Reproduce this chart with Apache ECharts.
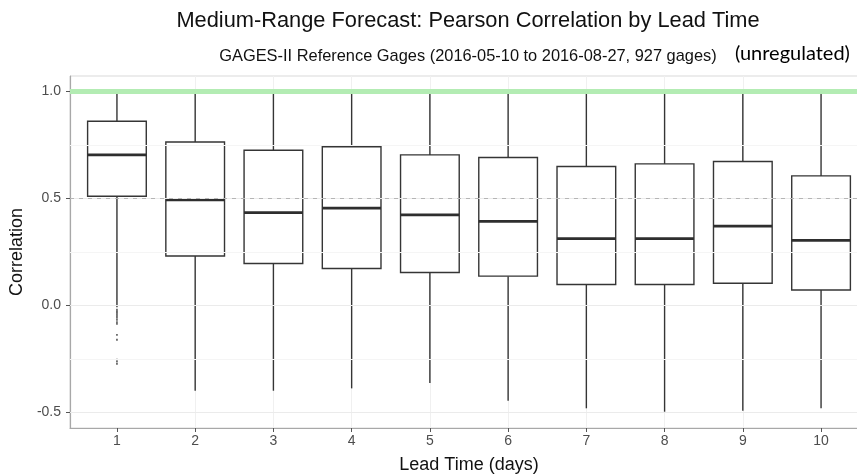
<!DOCTYPE html>
<html>
<head>
<meta charset="utf-8">
<script src="https://cdn.jsdelivr.net/npm/echarts@6/dist/echarts.min.js"></script>
<style>
  html, body { margin: 0; padding: 0; background: #fff; }
  #main { width: 857px; height: 475px; }
</style>
</head>
<body>
<div id="main"></div>
<script>
// lead time categories (days)
var leadDays = [1, 2, 3, 4, 5, 6, 7, 8, 9, 10];
// box statistics
var whiskerLow  = [-0.008, -0.398, -0.398, -0.387, -0.362, -0.445, -0.480, -0.496, -0.491, -0.480];
var q1          = [0.510, 0.231, 0.196, 0.173, 0.154, 0.137, 0.098, 0.098, 0.104, 0.072];
var median      = [0.703, 0.493, 0.434, 0.455, 0.423, 0.393, 0.312, 0.312, 0.371, 0.304];
var q3          = [0.860, 0.763, 0.725, 0.741, 0.703, 0.691, 0.649, 0.661, 0.672, 0.605];
var whiskerHigh = [0.995, 0.995, 0.995, 0.995, 0.995, 0.995, 0.995, 0.995, 0.995, 0.995];
// outliers (only lead time 1 has them)
var outlierDay = 1;
var outlierVals = [-0.019, -0.027, -0.034, -0.042, -0.050, -0.058, -0.067, -0.078, -0.086,
                   -0.137, -0.160, -0.253, -0.262, -0.273];
// axis ticks
var yTicks = [-0.5, 0, 0.5, 1.0];
var yMinor = [-0.25, 0.25, 0.75];

var boxData = [];
for (var i = 0; i < leadDays.length; i++) {
  boxData.push([leadDays[i], whiskerLow[i], q1[i], median[i], q3[i], whiskerHigh[i]]);
}
var outData = [];
for (var j = 0; j < outlierVals.length; j++) {
  outData.push([outlierDay, outlierVals[j]]);
}

var boxStroke = '#353535';

/* draw one ggplot style box (no whisker caps) */
function renderBox(params, api) {
  var x = api.value(0);
  var lo = api.coord([x, api.value(1)]);
  var b1 = api.coord([x, api.value(2)]);
  var md = api.coord([x, api.value(3)]);
  var b3 = api.coord([x, api.value(4)]);
  var hi = api.coord([x, api.value(5)]);
  var half = api.size([0.75, 0])[0] / 2;
  var cx = lo[0];
  var st = { stroke: boxStroke, lineWidth: 1.4, fill: null };
  return {
    type: 'group',
    children: [
      { type: 'line', shape: { x1: cx, y1: b1[1], x2: cx, y2: lo[1] }, style: st },
      { type: 'line', shape: { x1: cx, y1: b3[1], x2: cx, y2: hi[1] }, style: st },
      { type: 'rect', shape: { x: cx - half, y: b3[1], width: half * 2, height: b1[1] - b3[1] },
        style: { stroke: boxStroke, lineWidth: 1.4, fill: '#fff' } },
      { type: 'line', shape: { x1: cx - half, y1: md[1], x2: cx + half, y2: md[1] },
        style: { stroke: '#2e2e2e', lineWidth: 2.8 } }
    ]
  };
}

// major grid lines as marks so they land exactly on the tick values
var gridMarks = [];
for (var k = 0; k < yTicks.length; k++) {
  gridMarks.push({ yAxis: yTicks[k], lineStyle: { color: '#ebebeb', width: 1, type: 'solid' } });
}
for (var m = 0; m < yMinor.length; m++) {
  gridMarks.push({ yAxis: yMinor[m], lineStyle: { color: '#f5f5f5', width: 1, type: 'solid' } });
}
gridMarks.push({ yAxis: 1.0, lineStyle: { color: '#b3ecb3', width: 5, type: 'solid' } });

var chart = echarts.init(document.getElementById('main'));
var option = {
  animation: false,
  backgroundColor: '#fff',
  title: [
    {
      text: 'Medium-Range Forecast: Pearson Correlation by Lead Time',
      left: 468, top: 10, padding: 0, textAlign: 'center',
      textStyle: { fontFamily: 'Liberation Sans', fontSize: 21.8, fontWeight: 'normal', color: '#111' }
    },
    {
      text: 'GAGES-II Reference Gages (2016-05-10 to 2016-08-27, 927 gages)',
      left: 468, top: 48, padding: 0, textAlign: 'center',
      textStyle: { fontFamily: 'Liberation Sans', fontSize: 16.4, fontWeight: 'normal', color: '#111' }
    },
    {
      text: '(unregulated)',
      left: 735, top: 44, padding: 0,
      textStyle: { fontFamily: 'Lato', fontSize: 20, fontWeight: 'normal', color: '#000' }
    }
  ],
  grid: {
    left: 70, right: -11, top: 76, bottom: 47,
    outerBoundsMode: 'none',
    show: true, borderColor: '#d9d9d9', borderWidth: 1
  },
  xAxis: {
    type: 'value',
    min: 0.4, max: 10.6,
    splitNumber: 10,
    name: 'Lead Time (days)',
    nameLocation: 'middle',
    nameGap: 28,
    nameTextStyle: { fontFamily: 'Liberation Sans', fontSize: 18, color: '#111' },
    axisLine: { show: true, onZero: false, lineStyle: { color: '#a8a8a8', width: 1.2 } },
    axisTick: { show: true, length: 4, customValues: leadDays, lineStyle: { color: '#555' } },
    axisLabel: { customValues: leadDays, margin: 6, fontFamily: 'Liberation Sans', fontSize: 14, color: '#4d4d4d' },
    splitLine: { show: true, showMinLine: false, showMaxLine: false, lineStyle: { color: '#f0f0f0', width: 1 } }
  },
  yAxis: {
    type: 'value',
    min: -0.572, max: 1.0715,
    name: 'Correlation',
    nameLocation: 'middle',
    nameGap: 39,
    nameTextStyle: { fontFamily: 'Liberation Sans', fontSize: 18, color: '#111' },
    axisLine: { show: true, onZero: false, lineStyle: { color: '#a8a8a8', width: 1.2 } },
    axisTick: { show: true, length: 4, customValues: yTicks, lineStyle: { color: '#555' } },
    axisLabel: {
      customValues: yTicks, margin: 9, fontFamily: 'Liberation Sans', fontSize: 14, color: '#4d4d4d',
      formatter: function (v) { return v.toFixed(1); }
    },
    splitLine: { show: false }
  },
  series: [
    {
      // grid and reference lines under the boxes
      type: 'line', data: [], z: 1, silent: true,
      markLine: {
        symbol: 'none', silent: true, label: { show: false },
        data: gridMarks
      }
    },
    {
      type: 'custom', z: 2,
      renderItem: renderBox,
      data: boxData
    },
    {
      type: 'scatter', z: 3,
      symbol: 'rect', symbolSize: 1.8,
      itemStyle: { color: '#444' },
      data: outData
    },
    {
      // dashed 0.5 line drawn on top of the boxes
      type: 'line', data: [], z: 4, silent: true,
      markLine: {
        symbol: 'none', silent: true, label: { show: false },
        data: [{ yAxis: 0.5, lineStyle: { color: '#b5b5b5', width: 1, type: [4, 5] } }]
      }
    }
  ]
};
chart.setOption(option);
</script>
</body>
</html>
